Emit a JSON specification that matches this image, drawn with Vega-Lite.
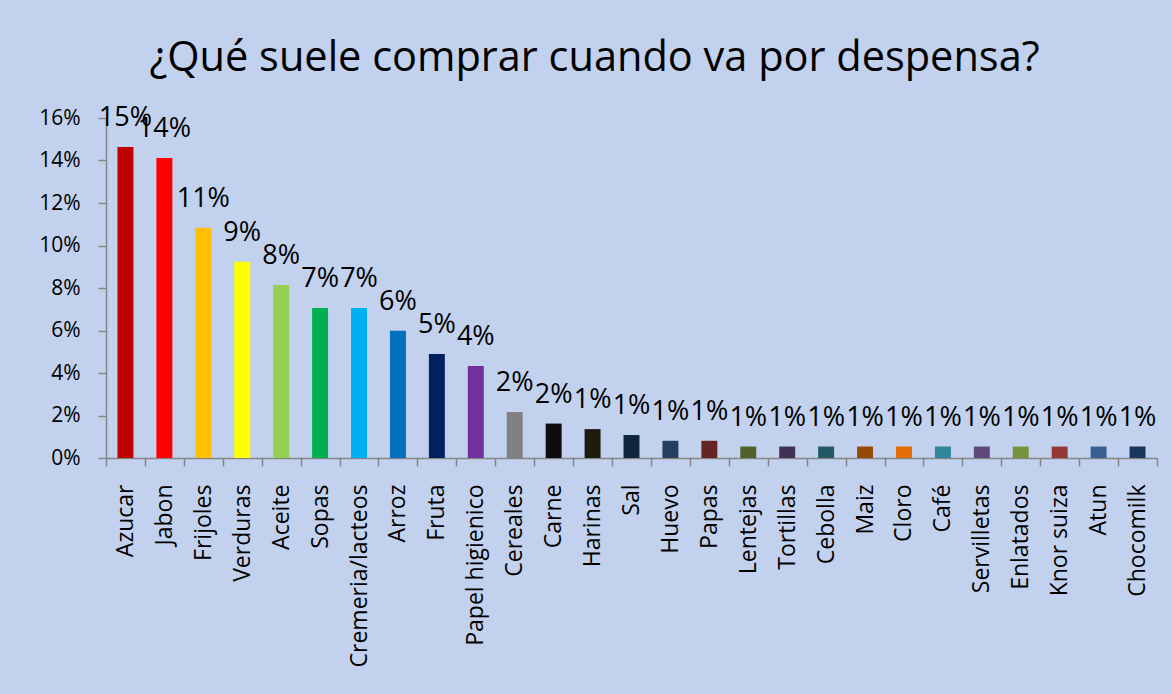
{
  "$schema": "https://vega.github.io/schema/vega-lite/v6.json",
  "autosize": {"type": "none"},
  "width": 1051,
  "height": 340,
  "padding": {"left": 106, "top": 118, "right": 15, "bottom": 236},
  "background": "#c2d1ed",
  "title": {
    "text": "¿Qué suele comprar cuando va por despensa?",
    "font": "Open Sans",
    "fontSize": 41.5,
    "fontWeight": "normal",
    "color": "#000000",
    "anchor": "middle",
    "frame": "group",
    "dx": -37,
    "dy": 52,
    "baseline": "alphabetic",
    "offset": 43
  },
  "data": {
    "values": [
      {"producto": "Azucar", "pct": 0.1464},
      {"producto": "Jabon", "pct": 0.1412},
      {"producto": "Frijoles", "pct": 0.1084},
      {"producto": "Verduras", "pct": 0.0924},
      {"producto": "Aceite", "pct": 0.0814},
      {"producto": "Sopas", "pct": 0.0706},
      {"producto": "Cremeria/lacteos", "pct": 0.0706},
      {"producto": "Arroz", "pct": 0.0599},
      {"producto": "Fruta", "pct": 0.0489},
      {"producto": "Papel higienico", "pct": 0.0433},
      {"producto": "Cereales", "pct": 0.0216},
      {"producto": "Carne", "pct": 0.0162},
      {"producto": "Harinas", "pct": 0.0136},
      {"producto": "Sal", "pct": 0.0108},
      {"producto": "Huevo", "pct": 0.0081},
      {"producto": "Papas", "pct": 0.0081},
      {"producto": "Lentejas", "pct": 0.0054},
      {"producto": "Tortillas", "pct": 0.0054},
      {"producto": "Cebolla", "pct": 0.0054},
      {"producto": "Maiz", "pct": 0.0054},
      {"producto": "Cloro", "pct": 0.0054},
      {"producto": "Café", "pct": 0.0054},
      {"producto": "Servilletas", "pct": 0.0054},
      {"producto": "Enlatados", "pct": 0.0054},
      {"producto": "Knor suiza", "pct": 0.0054},
      {"producto": "Atun", "pct": 0.0054},
      {"producto": "Chocomilk", "pct": 0.0054}
    ]
  },
  "encoding": {
    "x": {
      "field": "producto",
      "type": "nominal",
      "sort": null,
      "scale": {"paddingInner": 0, "paddingOuter": 0},
      "axis": {
        "title": null,
        "labelAngle": -90,
        "labelAlign": "right",
        "labelBaseline": "middle",
        "labelFont": "Open Sans",
        "labelFontSize": 23,
        "labelColor": "#000000",
        "labelPadding": 18,
        "labelLimit": 400,
        "tickBand": "extent",
        "tickSize": 8,
        "tickColor": "#868686",
        "domainColor": "#868686",
        "domainWidth": 1.5,
        "tickWidth": 1.5
      }
    },
    "y": {
      "field": "pct",
      "type": "quantitative",
      "scale": {"domain": [0, 0.16], "nice": false},
      "axis": {
        "title": null,
        "values": [0, 0.02, 0.04, 0.06, 0.08, 0.1, 0.12, 0.14, 0.16],
        "format": ".0%",
        "grid": false,
        "labelFont": "Open Sans",
        "labelFontSize": 21,
        "labelColor": "#000000",
        "labelPadding": 18,
        "tickSize": 8,
        "tickColor": "#868686",
        "domainColor": "#868686",
        "domainWidth": 1.5,
        "tickWidth": 1.5
      }
    }
  },
  "layer": [
    {
      "mark": {"type": "bar", "width": {"band": 0.41}},
      "encoding": {
        "color": {
          "field": "producto",
          "type": "nominal",
          "legend": null,
          "scale": {
            "domain": ["Azucar", "Jabon", "Frijoles", "Verduras", "Aceite", "Sopas", "Cremeria/lacteos", "Arroz", "Fruta", "Papel higienico", "Cereales", "Carne", "Harinas", "Sal", "Huevo", "Papas", "Lentejas", "Tortillas", "Cebolla", "Maiz", "Cloro", "Café", "Servilletas", "Enlatados", "Knor suiza", "Atun", "Chocomilk"],
            "range": ["#c00000", "#ff0000", "#ffc000", "#ffff00", "#92d050", "#00b050", "#00b0f0", "#0070c0", "#002060", "#7030a0", "#808080", "#0d0d0d", "#1d1b10", "#0f243e", "#243f60", "#632523", "#4f6228", "#3f3151", "#215967", "#974806", "#e36c09", "#31859c", "#604a7b", "#77933c", "#953735", "#366092", "#17375e"]
          }
        }
      }
    },
    {
      "mark": {"type": "text", "font": "Open Sans", "fontSize": 27, "color": "#000000", "baseline": "alphabetic", "dy": -21},
      "encoding": {
        "text": {"field": "pct", "type": "quantitative", "format": ".0%"}
      }
    }
  ],
  "config": {"view": {"stroke": null}}
}
